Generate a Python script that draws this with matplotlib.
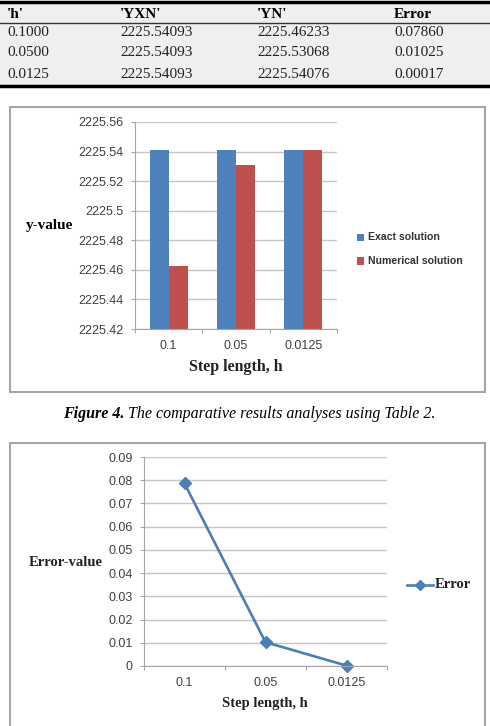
import matplotlib.pyplot as plt
from matplotlib.patches import Rectangle
from matplotlib.lines import Line2D

# table / chart data
h_labels = ['0.1000', '0.0500', '0.0125']
yxn = [2225.54093, 2225.54093, 2225.54093]
yn = [2225.46233, 2225.53068, 2225.54076]
err = [0.07860, 0.01025, 0.00017]
headers = ["'h'", "'YXN'", "'YN'", "Error"]
cats = ['0.1', '0.05', '0.0125']
series_names = ['Exact solution', 'Numerical solution']

W, H = 490, 726
blue = '#4f81bd'
red = '#c0504d'
grid_c = '#c6c6c6'
tick_c = '#404040'
serif = 'Liberation Serif'
sans = 'Liberation Sans'

fig = plt.figure(figsize=(W / 100, H / 100), dpi=100)


def fx(x):
    return x / W


def fy(y):
    return 1 - y / H


def box(x0, y0, x1, y1, z=-1, **kw):
    r = Rectangle((fx(x0), fy(y1)), fx(x1) - fx(x0), fy(y0) - fy(y1),
                  transform=fig.transFigure, zorder=z, **kw)
    fig.add_artist(r)


def hline(y, lw, c='black'):
    fig.add_artist(Line2D([0, 1], [fy(y), fy(y)], transform=fig.transFigure, lw=lw, color=c))


# ---- table ----
box(0, 1, 490, 86, facecolor='#efefef', edgecolor='none')
hline(1.5, 2.5)
hline(23, 1.0, '#333333')
hline(86, 2.5)
col_x = [7, 120, 257, 394]
for x, t in zip(col_x, headers):
    fig.text(fx(x), fy(14), t, fontsize=11, family=serif, weight='bold', va='center')
row_y = [33, 53, 74]
for i, y in enumerate(row_y):
    vals = [h_labels[i], f'{yxn[i]:.5f}', f'{yn[i]:.5f}', f'{err[i]:.5f}']
    for x, t in zip(col_x, vals):
        fig.text(fx(x), fy(y), t, fontsize=11, family=serif, color='#222222', va='center')


def style_axes(ax, ymin, ymax, step, fmt):
    ax.patch.set_alpha(0)
    for s in ['top', 'right']:
        ax.spines[s].set_visible(False)
    for s in ['left', 'bottom']:
        ax.spines[s].set_color('#a6a6a6')
    ax.set_xlim(-0.5, 2.5)
    ax.set_ylim(ymin, ymax)
    n = round((ymax - ymin) / step)
    ticks = [ymin + k * step for k in range(n + 1)]
    ax.set_yticks(ticks)
    ax.set_yticklabels([fmt(v) for v in ticks], family=sans, fontsize=9, color=tick_c)
    ax.yaxis.grid(True, color=grid_c, lw=1)
    ax.set_axisbelow(True)
    ax.set_xticks([-0.5, 0.5, 1.5, 2.5])
    ax.set_xticklabels([])
    ax.set_xticks(range(len(cats)), minor=True)
    ax.set_xticklabels(cats, minor=True, family=sans, fontsize=9, color=tick_c)
    ax.tick_params(axis='x', which='minor', length=0, pad=8)
    ax.tick_params(axis='both', which='major', length=3, color='#a6a6a6', pad=5)


def trim(v):
    return f'{v:.2f}'.rstrip('0').rstrip('.')


# ---- bar chart ----
box(10, 107, 485, 392, facecolor='white', edgecolor='#a6a6a6', lw=1.5)
ax1 = fig.add_axes([fx(135), fy(329), fx(337) - fx(135), fy(122) - fy(329)])
bw = 0.28
xs = range(len(cats))
ax1.bar([x - bw / 2 for x in xs], yxn, bw, color=blue, label=series_names[0])
ax1.bar([x + bw / 2 for x in xs], yn, bw, color=red, label=series_names[1])
style_axes(ax1, 2225.42, 2225.56, 0.02, trim)
fig.text(fx(50), fy(226), 'y-value', family=serif, weight='bold', fontsize=11, ha='center', va='center')
fig.text(fx(236), fy(367), 'Step length, h', family=serif, weight='bold', fontsize=11.5,
         ha='center', va='center', color='#222222')
for y, c, name in [(237, blue, series_names[0]), (261, red, series_names[1])]:
    box(357, y - 3.5, 364, y + 3.5, z=2, facecolor=c, edgecolor='none')
    fig.text(fx(368), fy(y), name, family=sans, weight='bold', fontsize=7.6, va='center', color='#333333')

# ---- caption ----
r = fig.canvas.get_renderer()
t1 = fig.text(fx(63), fy(414), 'Figure 4.', family=serif, weight='bold', style='italic',
              fontsize=11.5, va='center')
bb = t1.get_window_extent(r)
fig.text(bb.x1 / fig.dpi / fig.get_figwidth() + 0.008, fy(414),
         'The comparative results analyses using Table 2.', family=serif, style='italic',
         fontsize=11.5, va='center')

# ---- line chart ----
box(10, 443, 485, 740, facecolor='white', edgecolor='#a6a6a6', lw=1.5)
ax2 = fig.add_axes([fx(144), fy(666), fx(387) - fx(144), fy(457) - fy(666)])
ax2.plot(list(xs), err, color='#4a7ebb', lw=1.9, marker='D', ms=6, clip_on=False)
style_axes(ax2, 0, 0.09, 0.01, trim)
fig.text(fx(66), fy(562), 'Error-value', family=serif, weight='bold', fontsize=10.5,
         ha='center', va='center', color='#222222')
fig.text(fx(265), fy(703), 'Step length, h', family=serif, weight='bold', fontsize=10.5,
         ha='center', va='center', color='#222222')
fig.add_artist(Line2D([fx(407), fx(433)], [fy(585), fy(585)], transform=fig.transFigure,
                      color='#4a7ebb', lw=1.9))
fig.add_artist(Line2D([fx(420)], [fy(585)], transform=fig.transFigure,
                      color='#4a7ebb', marker='D', ms=5))
fig.text(fx(435), fy(585), 'Error', family=serif, weight='bold', fontsize=10.5, va='center',
         color='#222222')

fig.savefig('out.png', dpi=100)
